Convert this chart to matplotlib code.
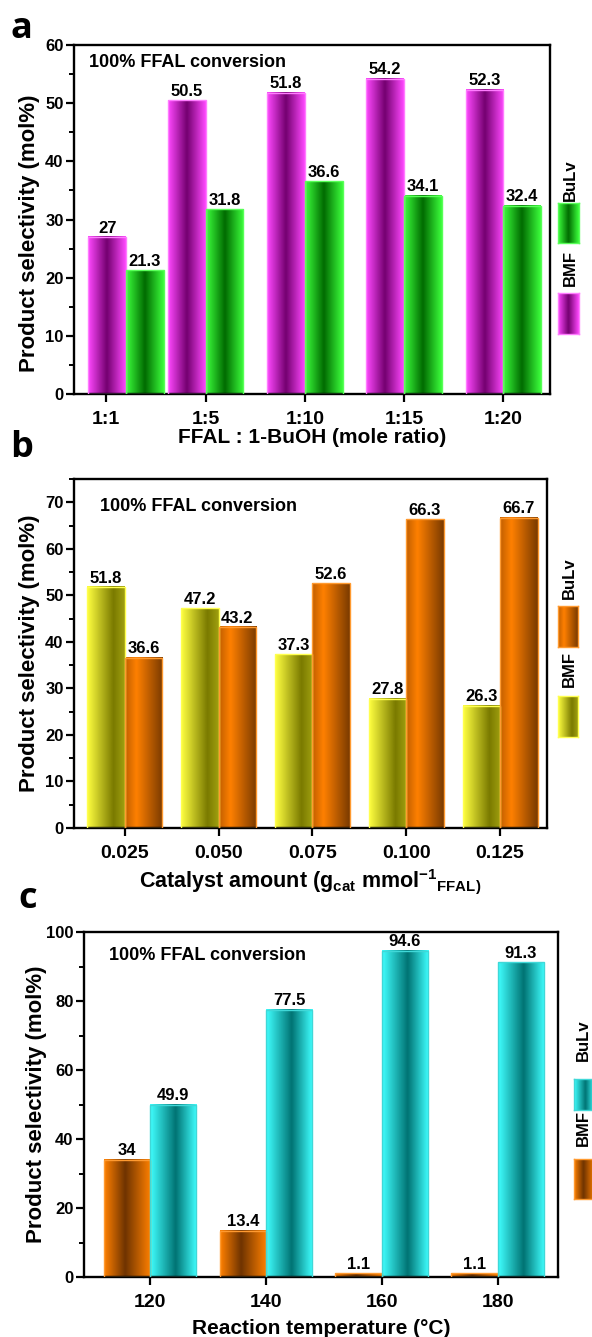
import numpy as np
import matplotlib
matplotlib.use("Agg")
import matplotlib.pyplot as plt
from matplotlib.colors import LinearSegmentedColormap
from matplotlib.ticker import MultipleLocator

plt.rcParams['font.family'] = ['Liberation Sans', 'DejaVu Sans']
plt.rcParams['font.weight'] = 'bold'
plt.rcParams['axes.labelweight'] = 'bold'
plt.rcParams['mathtext.fontset'] = 'custom'
plt.rcParams['mathtext.bf'] = 'Liberation Sans:bold'
plt.rcParams['mathtext.rm'] = 'Liberation Sans:bold'

# panel a: effect of FFAL : 1-BuOH ratio
ratios = ['1:1', '1:5', '1:10', '1:15', '1:20']
bmf_ratio = [27, 50.5, 51.8, 54.2, 52.3]
bulv_ratio = [21.3, 31.8, 36.6, 34.1, 32.4]

# panel b: effect of catalyst amount
amounts = ['0.025', '0.050', '0.075', '0.100', '0.125']
bmf_amount = [51.8, 47.2, 37.3, 27.8, 26.3]
bulv_amount = [36.6, 43.2, 52.6, 66.3, 66.7]

# panel c: effect of reaction temperature
temps = ['120', '140', '160', '180']
bmf_temp = [34, 13.4, 1.1, 1.1]
bulv_temp = [49.9, 77.5, 94.6, 91.3]

W, H = 592, 1337


def shade(stops):
    return LinearSegmentedColormap.from_list('shade', stops)


# cylinder-like shading for each bar style
magenta = shade([(0, '#ff48ff'), (0.5, '#73006f'), (1, '#ff48ff')])
green = shade([(0, '#3cff3c'), (0.5, '#006a00'), (1, '#3cff3c')])
yellow = shade([(0, '#ffff40'), (0.7, '#7a7a00'), (1, '#a0a010')])
orange_b = shade([(0, '#c05f00'), (0.3, '#ff8000'), (1, '#7a3a00')])
orange_c = shade([(0, '#ff8000'), (0.45, '#6e3300'), (1, '#ff8000')])
cyan = shade([(0, '#40ffff'), (0.55, '#007373'), (1, '#40ffff')])

grad = np.linspace(0, 1, 128).reshape(1, -1)


def fig_rect(x0, y0, x1, y1):
    # pixel box (top-left origin) -> figure fraction rect
    return [x0 / W, 1 - y1 / H, (x1 - x0) / W, (y1 - y0) / H]


def gradient_bars(ax, x, heights, width, cmap, edge, ymax):
    bars = ax.bar(x, heights, width, facecolor='none', edgecolor=edge, linewidth=1.0, zorder=3)
    for b in bars:
        x0 = b.get_x()
        ax.imshow(grad, cmap=cmap, aspect='auto', interpolation='bicubic', zorder=2,
                  extent=(x0, x0 + b.get_width(), 0, b.get_height()))
    for b, v in zip(bars, heights):
        ax.text(b.get_x() + b.get_width() / 2, v + 0.004 * ymax, f'{v:g}',
                ha='center', va='bottom', fontsize=12, fontweight='bold', zorder=5)
    return bars


def style_axes(ax, ymax, major, minor, xlim, ticks, labels):
    ax.set_xlim(*xlim)
    ax.set_ylim(0, ymax)
    ax.set_xticks(ticks)
    ax.set_xticklabels(labels)
    ax.yaxis.set_major_locator(MultipleLocator(major))
    ax.yaxis.set_minor_locator(MultipleLocator(minor))
    for s in ax.spines.values():
        s.set_linewidth(1.7)
    ax.tick_params(axis='both', which='major', direction='out', length=6, width=1.6)
    ax.tick_params(axis='y', which='minor', direction='out', length=3.5, width=1.4)
    ax.tick_params(axis='x', labelsize=14, pad=6)
    ax.tick_params(axis='y', labelsize=12, pad=1.5)
    ax.set_ylabel('Product selectivity (mol%)', fontsize=16)


def legend_swatch(fig, box, cmap, edge):
    lax = fig.add_axes(fig_rect(*box))
    lax.imshow(grad, cmap=cmap, aspect='auto', interpolation='bicubic')
    lax.set_xticks([])
    lax.set_yticks([])
    for s in lax.spines.values():
        s.set_color(edge)
        s.set_linewidth(1.0)


fig = plt.figure(figsize=(W / 100, H / 100), dpi=100)

# ---- panel a
ax = fig.add_axes(fig_rect(74, 45, 550, 394))
w = 0.38
pos = np.arange(len(ratios))
centers = pos + np.array([0.2, 0, 0, 0, 0])
gradient_bars(ax, centers - w / 2, bmf_ratio, w, magenta, '#ff7cff', 60)
gradient_bars(ax, centers + w / 2, bulv_ratio, w, green, '#59ff59', 60)
style_axes(ax, 60, 10, 5, (-0.325, 4.47), pos, ratios)
ax.set_xlabel('FFAL : 1-BuOH (mole ratio)', fontsize=15)
ax.xaxis.set_label_coords(0.5, -0.098)
ax.yaxis.set_label_coords(-0.072, 0.46)
ax.text(0.032, 0.951, '100% FFAL conversion', transform=ax.transAxes, fontsize=13,
        va='center', ha='left')
legend_swatch(fig, (558, 203, 579, 243), green, '#59ff59')
legend_swatch(fig, (558, 293, 579, 334), magenta, '#ff7cff')
fig.text(570 / W, 1 - 180 / H, 'BuLv', rotation=90, ha='center', va='center', fontsize=12)
fig.text(570 / W, 1 - 268 / H, 'BMF', rotation=90, ha='center', va='center', fontsize=12)
fig.text(10 / W, 1 - 38 / H, 'a', fontsize=26, fontweight='bold', family='Open Sans')

# ---- panel b
ax = fig.add_axes(fig_rect(74, 479, 547, 828))
w = 0.4
pos = np.arange(len(amounts))
gradient_bars(ax, pos - w / 2, bmf_amount, w, yellow, '#ffff50', 75)
gradient_bars(ax, pos + w / 2, bulv_amount, w, orange_b, '#ff9a30', 75)
style_axes(ax, 75, 10, 5, (-0.54, 4.5), pos, amounts)
ax.set_xlabel(r'Catalyst amount (g$_{\mathbf{cat}}$ mmol$^{\mathbf{-1}}$$_{\mathbf{FFAL)}}$', fontsize=15.5)
ax.xaxis.set_label_coords(0.5, -0.112)
ax.yaxis.set_label_coords(-0.072, 0.5)
ax.text(0.055, 0.92, '100% FFAL conversion', transform=ax.transAxes, fontsize=13,
        va='center', ha='left')
legend_swatch(fig, (558, 606, 578, 647), orange_b, '#ff9a30')
legend_swatch(fig, (558, 696, 578, 737), yellow, '#ffff50')
fig.text(569 / W, 1 - 578 / H, 'BuLv', rotation=90, ha='center', va='center', fontsize=12)
fig.text(569 / W, 1 - 669 / H, 'BMF', rotation=90, ha='center', va='center', fontsize=12)
fig.text(10 / W, 1 - 457 / H, 'b', fontsize=26, fontweight='bold', family='Open Sans')

# ---- panel c
ax = fig.add_axes(fig_rect(84, 932, 558, 1277))
pos = np.arange(len(temps))
gradient_bars(ax, pos - w / 2, bmf_temp, w, orange_c, '#ff9a30', 100)
gradient_bars(ax, pos + w / 2, bulv_temp, w, cyan, '#40d8d8', 100)
style_axes(ax, 100, 20, 10, (-0.57, 3.52), pos, temps)
ax.set_xlabel('Reaction temperature (°C)', fontsize=15)
ax.xaxis.set_label_coords(0.5, -0.122)
ax.yaxis.set_label_coords(-0.078, 0.5)
ax.text(0.053, 0.933, '100% FFAL conversion', transform=ax.transAxes, fontsize=13,
        va='center', ha='left')
legend_swatch(fig, (574, 1079, 594, 1110), cyan, '#40d8d8')
legend_swatch(fig, (574, 1159, 594, 1199), orange_c, '#ff9a30')
fig.text(583 / W, 1 - 1040 / H, 'BuLv', rotation=90, ha='center', va='center', fontsize=12)
fig.text(583 / W, 1 - 1128 / H, 'BMF', rotation=90, ha='center', va='center', fontsize=12)
fig.text(18 / W, 1 - 908 / H, 'c', fontsize=26, fontweight='bold', family='Open Sans')

fig.savefig('out.png', dpi=100)
